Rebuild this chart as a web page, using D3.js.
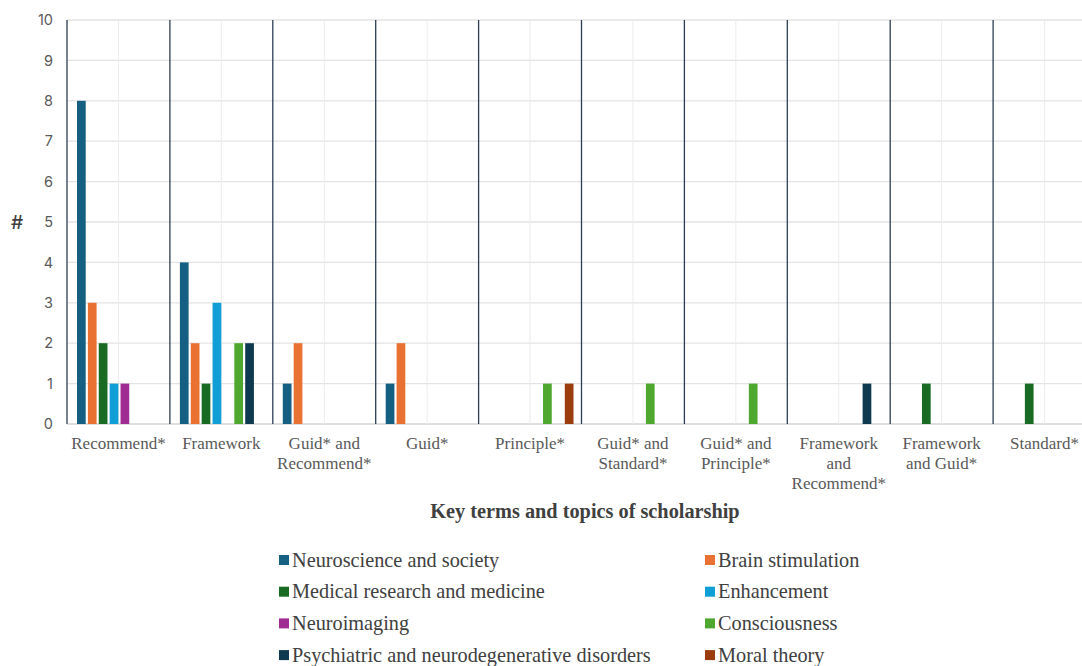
<!DOCTYPE html>
<html>
<head>
<meta charset="utf-8">
<script src="https://cdn.jsdelivr.net/npm/d3@7"></script>
<style>
  body { margin: 0; background: #fff; }
  svg { display: block; }
</style>
</head>
<body>
<div id="chart"></div>
<script>
const categories = ["Recommend*", "Framework", "Guid* and Recommend*", "Guid*", "Principle*",
    "Guid* and Standard*", "Guid* and Principle*", "Framework and Recommend*", "Framework and Guid*", "Standard*"]

const seriesNames = ["Neuroscience and society", "Brain stimulation", "Medical research and medicine",
    "Enhancement", "Neuroimaging", "Consciousness", "Psychiatric and neurodegenerative disorders", "Moral theory"]

const neuroscience = [8, 4, 1, 1, 0, 0, 0, 0, 0, 0]
const brainStimulation = [3, 2, 2, 2, 0, 0, 0, 0, 0, 0]
const medical = [2, 1, 0, 0, 0, 0, 0, 0, 1, 1]
const enhancement = [1, 3, 0, 0, 0, 0, 0, 0, 0, 0]
const neuroimaging = [1, 0, 0, 0, 0, 0, 0, 0, 0, 0]
const consciousness = [0, 2, 0, 0, 1, 1, 1, 0, 0, 0]
const psychiatric = [0, 2, 0, 0, 0, 0, 0, 1, 0, 0]
const moralTheory = [0, 0, 0, 0, 1, 0, 0, 0, 0, 0]

const yTicks = [0, 1, 2, 3, 4, 5, 6, 7, 8, 9, 10]

const seriesValues = [neuroscience, brainStimulation, medical, enhancement, neuroimaging, consciousness, psychiatric, moralTheory]
const colors = ["#156082", "#e97132", "#196b24", "#0f9ed5", "#a02b93", "#4ea72e", "#0e3a50", "#9a3c0e"]

const width = 1082
const height = 666
const margin = { left: 67, top: 20, right: -14, bottom: 242 }

const svg = d3.select('#chart').append('svg').attr('width', width).attr('height', height)

const xScale = d3.scaleBand().domain(categories).range([margin.left, width - margin.right])
const inner = d3.scaleBand().domain(seriesNames).range([10, xScale.bandwidth() - 8]).paddingInner(0.2).paddingOuter(0)
const yScale = d3.scaleLinear().domain([0, 10]).range([height - margin.bottom, margin.top])

// horizontal gridlines
svg.append('g').selectAll('line').data(yTicks).enter().append('line')
    .attr('x1', margin.left).attr('x2', width - margin.right)
    .attr('y1', function(d) { return yScale(d) }).attr('y2', function(d) { return yScale(d) })
    .attr('stroke', function(d) { return d === 0 ? '#d4d4d4' : '#e3e3e3' })
    .attr('stroke-width', 1.3)

// faint vertical gridlines at group centres
svg.append('g').selectAll('line').data(categories).enter().append('line')
    .attr('x1', function(d) { return xScale(d) + xScale.bandwidth() / 2 })
    .attr('x2', function(d) { return xScale(d) + xScale.bandwidth() / 2 })
    .attr('y1', yScale(10)).attr('y2', yScale(0))
    .attr('stroke', '#ececec').attr('stroke-width', 1)

// dark separators between groups
svg.append('g').selectAll('line').data(categories).enter().append('line')
    .attr('x1', function(d) { return xScale(d) }).attr('x2', function(d) { return xScale(d) })
    .attr('y1', yScale(10)).attr('y2', yScale(0))
    .attr('stroke', '#2c3e56').attr('stroke-width', 1.3)

// bars
const groups = svg.append('g').selectAll('g').data(categories).enter().append('g')
    .attr('transform', function(d) { return 'translate(' + xScale(d) + ',0)' })

groups.selectAll('rect')
    .data(function(cat, ci) {
        return seriesNames.map(function(s, si) { return { series: s, value: seriesValues[si][ci], color: colors[si] } })
    })
    .enter()
    .filter(function(d) { return d.value > 0 })
    .append('rect')
    .attr('x', function(d) { return inner(d.series) })
    .attr('width', inner.bandwidth())
    .attr('y', function(d) { return yScale(d.value) })
    .attr('height', function(d) { return yScale(0) - yScale(d.value) })
    .attr('fill', function(d) { return d.color })

// y axis labels
const yAxis = d3.axisLeft(yScale).tickValues(yTicks).tickSize(0).tickPadding(14)
const yg = svg.append('g').attr('transform', 'translate(' + margin.left + ',0)').call(yAxis)
yg.select('.domain').remove()
yg.selectAll('text')
    .attr('font-family', 'Inter, "Open Sans", sans-serif')
    .attr('font-size', 14.5)
    .attr('fill', '#595959')

svg.append('text')
    .attr('x', 17).attr('y', yScale(5) + 7)
    .attr('text-anchor', 'middle')
    .attr('font-family', 'Inter, "Open Sans", sans-serif')
    .attr('font-size', 19)
    .attr('font-weight', 500)
    .attr('fill', '#404040')
    .text('#')

// x axis labels, wrapped
const xAxis = d3.axisBottom(xScale).tickSize(0).tickPadding(13)
const xg = svg.append('g').attr('transform', 'translate(0,' + yScale(0) + ')').call(xAxis)
xg.select('.domain').remove()
xg.selectAll('text')
    .attr('font-family', '"Liberation Serif", "Times New Roman", serif')
    .attr('font-size', 17)
    .attr('fill', '#595959')
    .call(wrap, 95)

function wrap(texts, maxWidth) {
    texts.each(function() {
        const text = d3.select(this)
        const words = text.text().split(/\s+/)
        const y = text.attr('y')
        const dy = parseFloat(text.attr('dy'))
        text.text(null)
        let line = []
        let lineNo = 0
        let tspan = text.append('tspan').attr('x', 0).attr('y', y).attr('dy', dy + 'em')
        words.forEach(function(w) {
            line.push(w)
            tspan.text(line.join(' '))
            if (tspan.node().getComputedTextLength() > maxWidth && line.length > 1) {
                line.pop()
                tspan.text(line.join(' '))
                line = [w]
                lineNo++
                tspan = text.append('tspan').attr('x', 0).attr('y', y)
                    .attr('dy', (lineNo * 1.18 + dy) + 'em').text(w)
            }
        })
    })
}

svg.append('text')
    .attr('x', 585).attr('y', 518)
    .attr('text-anchor', 'middle')
    .attr('font-family', '"Liberation Serif", "Times New Roman", serif')
    .attr('font-size', 20.3)
    .attr('font-weight', 'bold')
    .attr('fill', '#404040')
    .text('Key terms and topics of scholarship')

// legend
const legend = svg.append('g').selectAll('g').data(seriesNames).enter().append('g')
    .attr('transform', function(d, i) {
        const col = i % 2
        const row = Math.floor(i / 2)
        return 'translate(' + (col === 0 ? 279 : 705) + ',' + (560 + row * 31.7) + ')'
    })
legend.append('rect')
    .attr('x', 0).attr('y', -5).attr('width', 10).attr('height', 10)
    .attr('fill', function(d, i) { return colors[i] })
legend.append('text')
    .attr('x', 13).attr('y', 6.5)
    .attr('font-family', '"Liberation Serif", "Times New Roman", serif')
    .attr('font-size', 20.3)
    .attr('fill', '#404040')
    .text(function(d) { return d })
</script>
</body>
</html>
